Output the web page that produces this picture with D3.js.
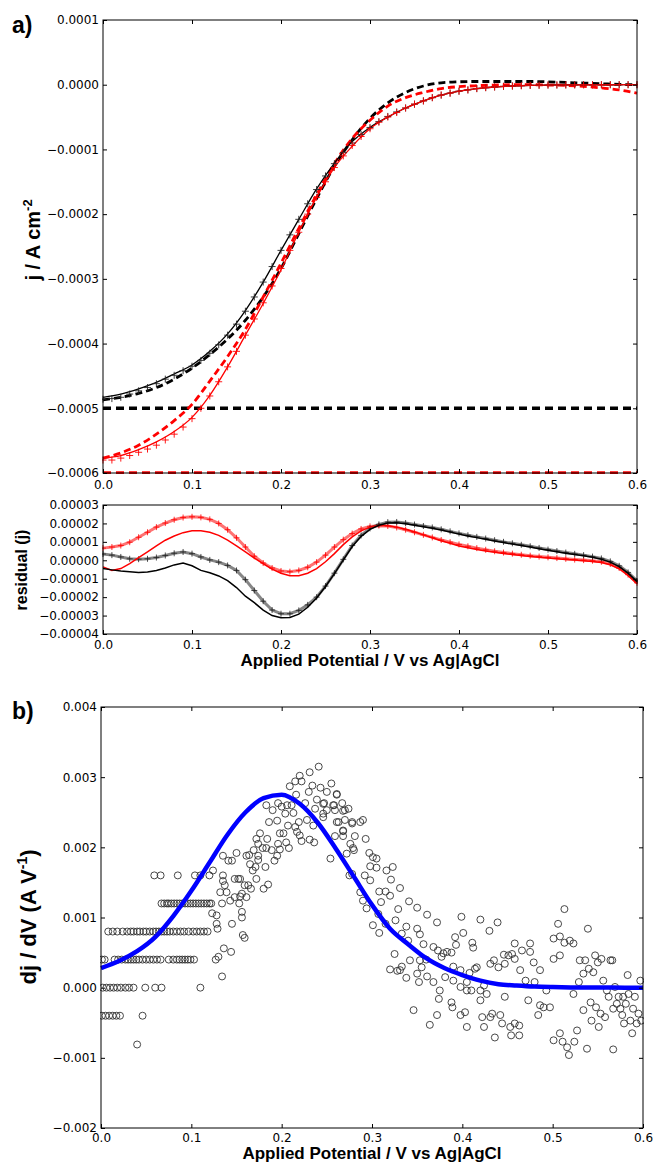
<!DOCTYPE html>
<html>
<head>
<meta charset="utf-8">
<script src="https://cdn.jsdelivr.net/npm/d3@7"></script>
<style>
    body { margin: 0; background: #fff; }
    svg text { font-family: "DejaVu Sans", sans-serif; }
    .tick text { font-size: 12px; fill: #000; }
    .tick line { stroke: #000; }
    .label { font-family: "Liberation Sans", Arial, sans-serif; font-weight: bold; fill: #000; }
</style>
</head>
<body>
<svg id="fig" width="654" height="1163"></svg>
<script>
// ---- shared axis ticks
let potentialTicks = [0.0, 0.1, 0.2, 0.3, 0.4, 0.5, 0.6];
let currentTicks = [-0.0006, -0.0005, -0.0004, -0.0003, -0.0002, -0.0001, 0.0, 0.0001];
let residualTicks = [-0.00004, -0.00003, -0.00002, -0.00001, 0.0, 0.00001, 0.00002, 0.00003];
let derivTicks = [-0.002, -0.001, 0.0, 0.001, 0.002, 0.003, 0.004];

// ---- panel a: potentials (V)
let potentialFit = [0.00, 0.02, 0.04, 0.06, 0.08, 0.10, 0.12, 0.14, 0.16, 0.18, 0.20, 0.22, 0.24, 0.26, 0.28, 0.30,
    0.32, 0.34, 0.36, 0.38, 0.40, 0.42, 0.44, 0.46, 0.48, 0.50, 0.52, 0.54, 0.56, 0.58, 0.60];
let potentialData = [0.00, 0.01, 0.02, 0.03, 0.04, 0.05, 0.06, 0.07, 0.08, 0.09, 0.10, 0.11, 0.12, 0.13, 0.14, 0.15,
    0.16, 0.17, 0.18, 0.19, 0.20, 0.21, 0.22, 0.23, 0.24, 0.25, 0.26, 0.27, 0.28, 0.29, 0.30, 0.31, 0.32, 0.33, 0.34,
    0.35, 0.36, 0.37, 0.38, 0.39, 0.40, 0.41, 0.42, 0.43, 0.44, 0.45, 0.46, 0.47, 0.48, 0.49, 0.50, 0.51, 0.52, 0.53,
    0.54, 0.55, 0.56, 0.57, 0.58, 0.59, 0.60];

// current densities in units of 1e-4 A cm^-2
let blackFit = [-4.83, -4.78, -4.70, -4.60, -4.47, -4.33, -4.12, -3.85, -3.49, -3.05, -2.56, -2.08, -1.61, -1.21,
    -0.88, -0.66, -0.50, -0.36, -0.25, -0.16, -0.10, -0.06, -0.035, -0.02, -0.01, -0.005, -0.003, -0.002, -0.001, 0, 0];
let blackModel = [-4.87, -4.83, -4.77, -4.68, -4.55, -4.38, -4.17, -3.93, -3.64, -3.28, -2.84, -2.30, -1.76, -1.26,
    -0.85, -0.52, -0.28, -0.12, -0.02, 0.03, 0.045, 0.05, 0.05, 0.05, 0.05, 0.045, 0.035, 0.025, 0.015, 0.005, 0.0];
let blackData = [-4.86, -4.85, -4.83, -4.78, -4.73, -4.68, -4.62, -4.55, -4.49, -4.42, -4.35, -4.26, -4.15, -4.02,
    -3.87, -3.70, -3.50, -3.28, -3.05, -2.81, -2.56, -2.32, -2.08, -1.84, -1.62, -1.41, -1.22, -1.05, -0.90, -0.77,
    -0.66, -0.57, -0.49, -0.42, -0.36, -0.30, -0.25, -0.20, -0.16, -0.13, -0.10, -0.08, -0.06, -0.045, -0.035, -0.025,
    -0.02, -0.015, -0.01, -0.008, -0.005, -0.004, -0.003, -0.002, -0.001, -0.001, 0, 0, 0, 0, 0];
let redFit = [-5.77, -5.73, -5.64, -5.52, -5.36, -5.14, -4.80, -4.36, -3.87, -3.38, -2.86, -2.28, -1.74, -1.28,
    -0.95, -0.68, -0.50, -0.36, -0.25, -0.16, -0.10, -0.06, -0.035, -0.02, -0.01, -0.005, -0.003, -0.002, -0.001, 0, 0];
let redModel = [-5.77, -5.69, -5.57, -5.40, -5.19, -4.94, -4.58, -4.20, -3.78, -3.28, -2.76, -2.22, -1.70, -1.22,
    -0.83, -0.55, -0.33, -0.20, -0.12, -0.06, -0.03, -0.015, -0.005, 0, 0, -0.005, -0.01, -0.025, -0.05, -0.08, -0.13];
let redData = [-5.80, -5.80, -5.77, -5.73, -5.68, -5.63, -5.57, -5.49, -5.40, -5.29, -5.16, -5.00, -4.81, -4.59,
    -4.36, -4.12, -3.87, -3.62, -3.37, -3.11, -2.84, -2.56, -2.28, -2.00, -1.74, -1.50, -1.28, -1.10, -0.94, -0.80,
    -0.68, -0.58, -0.50, -0.43, -0.36, -0.30, -0.25, -0.20, -0.16, -0.13, -0.10, -0.08, -0.06, -0.045, -0.035, -0.025,
    -0.02, -0.015, -0.01, -0.008, -0.005, -0.004, -0.003, -0.002, -0.001, -0.001, 0, 0, 0, 0, 0];
let limitCurrents = [-0.0005, -0.0006];

// ---- residuals in units of 1e-5
let redResidualPlus = [0.66, 0.72, 0.80, 0.98, 1.25, 1.52, 1.80, 2.02, 2.20, 2.32, 2.36, 2.33, 2.22, 2.00, 1.66,
    1.22, 0.72, 0.22, -0.15, -0.42, -0.58, -0.62, -0.55, -0.38, -0.10, 0.28, 0.72, 1.12, 1.45, 1.70, 1.84, 1.88, 1.86,
    1.78, 1.66, 1.52, 1.38, 1.24, 1.10, 0.98, 0.86, 0.76, 0.66, 0.57, 0.49, 0.42, 0.36, 0.30, 0.25, 0.20, 0.16, 0.12,
    0.08, 0.04, 0.01, -0.02, -0.08, -0.20, -0.42, -0.78, -1.22];
let redResidualLine = [-0.36, -0.55, -0.45, -0.18, 0.15, 0.45, 0.78, 1.09, 1.32, 1.50, 1.60, 1.60, 1.52, 1.35, 1.09,
    0.78, 0.45, 0.12, -0.18, -0.48, -0.70, -0.84, -0.84, -0.70, -0.45, -0.08, 0.36, 0.85, 1.27, 1.60, 1.80, 1.90, 1.88,
    1.80, 1.68, 1.54, 1.38, 1.22, 1.06, 0.92, 0.78, 0.68, 0.58, 0.50, 0.43, 0.37, 0.31, 0.26, 0.21, 0.16, 0.12, 0.08,
    0.04, 0.01, -0.02, -0.06, -0.12, -0.24, -0.46, -0.82, -1.27];
let blackResidualPlus = [0.34, 0.28, 0.18, 0.08, 0.06, 0.08, 0.15, 0.26, 0.38, 0.45, 0.36, 0.18, 0.02, -0.10, -0.28,
    -0.55, -1.05, -1.64, -2.22, -2.70, -2.90, -2.90, -2.72, -2.42, -2.00, -1.40, -0.70, 0.05, 0.80, 1.35, 1.73, 1.95,
    2.07, 2.08, 2.02, 1.94, 1.86, 1.78, 1.68, 1.57, 1.46, 1.36, 1.27, 1.18, 1.09, 1.00, 0.92, 0.84, 0.76, 0.67, 0.58,
    0.50, 0.42, 0.35, 0.28, 0.20, 0.10, -0.06, -0.30, -0.66, -1.12];
let blackResidualLine = [-0.45, -0.52, -0.58, -0.62, -0.66, -0.64, -0.55, -0.42, -0.25, -0.15, -0.30, -0.55, -0.68,
    -0.85, -1.10, -1.48, -1.95, -2.30, -2.70, -3.00, -3.12, -3.10, -2.92, -2.55, -2.05, -1.42, -0.72, 0.02, 0.75, 1.30,
    1.68, 1.90, 2.02, 2.04, 1.98, 1.90, 1.82, 1.74, 1.64, 1.53, 1.42, 1.32, 1.23, 1.14, 1.05, 0.96, 0.88, 0.80, 0.72,
    0.63, 0.54, 0.46, 0.38, 0.31, 0.24, 0.16, 0.06, -0.10, -0.34, -0.70, -1.16];

// ---- panel b: dj/dV in units of 1e-3 A V^-1
let derivFit = [0.28, 0.38, 0.52, 0.72, 1.02, 1.38, 1.78, 2.18, 2.50, 2.70, 2.75, 2.62, 2.35, 1.98, 1.58, 1.18,
    0.84, 0.62, 0.42, 0.28, 0.18, 0.10, 0.05, 0.03, 0.015, 0.008, 0.004, 0.002, 0.001, 0.0, 0.0];

// low-potential derivative values fall on discrete levels
let derivLevels = [1.6, 1.2, 0.8, 0.4, 0.0, -0.4];
let derivLevelPotentials = [
    [0.059, 0.066, 0.085, 0.104, 0.110, 0.120],
    [0.067, 0.070, 0.073, 0.075, 0.078, 0.081, 0.084, 0.087, 0.090, 0.093, 0.096, 0.099, 0.102, 0.105, 0.108, 0.111,
        0.114, 0.117, 0.120, 0.122],
    [0.008, 0.013, 0.018, 0.024, 0.029, 0.033, 0.036, 0.040, 0.043, 0.047, 0.050, 0.054, 0.058, 0.061, 0.064, 0.067,
        0.070, 0.073, 0.076, 0.080, 0.084, 0.088, 0.092, 0.097, 0.102, 0.106, 0.110, 0.114, 0.118],
    [0.001, 0.004, 0.015, 0.019, 0.023, 0.027, 0.030, 0.033, 0.036, 0.039, 0.042, 0.046, 0.050, 0.054, 0.058, 0.062,
        0.066, 0.075, 0.080, 0.084, 0.087, 0.090, 0.093, 0.096, 0.099, 0.103],
    [0.002, 0.006, 0.010, 0.014, 0.018, 0.022, 0.027, 0.031, 0.036, 0.049, 0.060, 0.067, 0.110],
    [0.001, 0.005, 0.009, 0.013, 0.017, 0.021, 0.046]
];
let derivScatter = [
    [0.040, -0.81], [0.123, 1.06], [0.128, 1.03], [0.128, 0.91], [0.129, 0.84], [0.145, 0.91], [0.156, 1.08],
    [0.156, 1.00], [0.157, 0.75], [0.159, 0.71], [0.136, 0.56], [0.144, 0.51], [0.130, 0.44], [0.127, 0.40],
    [0.134, 0.16], [0.241, 3.15], [0.231, 3.07], [0.220, 3.02], [0.215, 2.94], [0.222, 2.94], [0.209, 2.87],
    [0.234, 2.88], [0.255, 2.91], [0.243, 2.85], [0.230, 2.79], [0.250, 2.79], [0.216, 2.75], [0.261, 2.75],
    [0.239, 2.68], [0.226, 2.63], [0.247, 2.63], [0.257, 2.60], [0.267, 2.63], [0.183, 2.60], [0.196, 2.63],
    [0.200, 2.58], [0.206, 2.60], [0.211, 2.60], [0.190, 2.53], [0.204, 2.48], [0.213, 2.49], [0.237, 2.55],
    [0.246, 2.48], [0.258, 2.60], [0.268, 2.52], [0.274, 2.55], [0.186, 2.36], [0.195, 2.38], [0.219, 2.36],
    [0.228, 2.39], [0.246, 2.43], [0.261, 2.36], [0.270, 2.39], [0.278, 2.36], [0.207, 2.31], [0.215, 2.29],
    [0.235, 2.31], [0.268, 2.24], [0.217, 2.22], [0.176, 2.20], [0.198, 2.20], [0.202, 2.20], [0.220, 2.17],
    [0.259, 2.16], [0.268, 2.16], [0.281, 2.16], [0.172, 2.12], [0.184, 2.12], [0.222, 2.09], [0.231, 2.11],
    [0.236, 2.07], [0.174, 2.05], [0.179, 1.99], [0.183, 1.99], [0.196, 2.05], [0.205, 2.07], [0.276, 2.05],
    [0.279, 1.99], [0.169, 1.96], [0.189, 1.96], [0.198, 1.97], [0.208, 1.99], [0.164, 1.89], [0.174, 1.88],
    [0.150, 1.92], [0.161, 1.88], [0.195, 1.88], [0.135, 1.88], [0.141, 1.81], [0.145, 1.81], [0.174, 1.82],
    [0.192, 1.81], [0.272, 1.91], [0.165, 1.76], [0.171, 1.72], [0.182, 1.72], [0.124, 1.67], [0.168, 1.67],
    [0.135, 1.60], [0.275, 1.60], [0.172, 1.55], [0.148, 1.55], [0.152, 1.55], [0.154, 1.55], [0.135, 1.52],
    [0.137, 1.46], [0.159, 1.46], [0.163, 1.46], [0.185, 1.47], [0.180, 1.41], [0.166, 1.41], [0.132, 1.36],
    [0.139, 1.36], [0.156, 1.34], [0.148, 1.29], [0.154, 1.30], [0.161, 1.29], [0.143, 1.24], [0.134, 1.20],
    [0.153, 1.20], [0.287, 1.36], [0.261, 2.76], [0.246, 2.62], [0.250, 2.53], [0.259, 2.53], [0.270, 2.53],
    [0.263, 2.36], [0.278, 2.34], [0.287, 2.36], [0.290, 2.39], [0.268, 2.23], [0.293, 2.12], [0.280, 1.96],
    [0.254, 1.84], [0.297, 1.92], [0.301, 1.86], [0.305, 1.84], [0.298, 1.73], [0.305, 1.71], [0.316, 1.67],
    [0.323, 1.72], [0.278, 1.62], [0.292, 1.60], [0.298, 1.53], [0.321, 1.54], [0.331, 1.42], [0.308, 1.37],
    [0.315, 1.37], [0.320, 1.31], [0.290, 1.24], [0.310, 1.22], [0.341, 1.23], [0.350, 1.14], [0.294, 1.13],
    [0.329, 1.12], [0.361, 1.04], [0.372, 0.93], [0.307, 1.05], [0.315, 0.91], [0.326, 0.96], [0.301, 0.89],
    [0.308, 0.78], [0.338, 0.87], [0.350, 0.84], [0.353, 0.76], [0.333, 0.77], [0.340, 0.67], [0.357, 0.62],
    [0.368, 0.58], [0.383, 0.51], [0.399, 1.01], [0.420, 0.97], [0.439, 0.93], [0.401, 0.78], [0.430, 0.81],
    [0.392, 0.72], [0.393, 0.61], [0.411, 0.64], [0.412, 0.57], [0.325, 0.48], [0.320, 0.26], [0.328, 0.24],
    [0.333, 0.30], [0.342, 0.39], [0.353, 0.39], [0.360, 0.40], [0.373, 0.53], [0.377, 0.44], [0.379, 0.49],
    [0.388, 0.50], [0.331, 0.25], [0.338, 0.14], [0.350, 0.20], [0.352, 0.08], [0.361, 0.16], [0.355, 0.29],
    [0.368, 0.08], [0.375, -0.04], [0.381, 0.15], [0.390, 0.30], [0.390, 0.10], [0.398, 0.25], [0.405, -0.04],
    [0.408, 0.21], [0.414, 0.27], [0.416, 0.29], [0.374, -0.16], [0.388, -0.21], [0.389, -0.28], [0.398, -0.39],
    [0.403, -0.35], [0.405, -0.56], [0.420, -0.18], [0.422, -0.42], [0.424, -0.56], [0.431, -0.42], [0.433, -0.37],
    [0.436, -0.71], [0.442, -0.39], [0.444, -0.51], [0.447, -0.13], [0.453, -0.56], [0.454, -0.68], [0.458, -0.51],
    [0.463, -0.54], [0.463, -0.68], [0.346, -0.32], [0.364, -0.53], [0.372, -0.39], [0.398, 0.01], [0.405, 0.08],
    [0.410, -0.04], [0.420, -0.04], [0.424, 0.03], [0.427, -0.09], [0.431, 0.34], [0.435, 0.39], [0.440, 0.29],
    [0.446, 0.47], [0.447, 0.34], [0.451, 0.46], [0.455, 0.48], [0.458, 0.41], [0.458, 0.63], [0.464, 0.25],
    [0.466, 0.53], [0.470, 0.10], [0.473, -0.18], [0.475, 0.63], [0.475, 0.51], [0.479, 0.36], [0.480, 0.08],
    [0.484, -0.39], [0.486, 0.25], [0.486, -0.25], [0.490, -0.28], [0.493, -0.04], [0.497, -0.28], [0.501, 0.70],
    [0.501, 0.41], [0.501, -0.75], [0.506, 0.91], [0.508, 0.73], [0.508, 0.46], [0.508, -0.65], [0.511, -0.77],
    [0.513, 1.12], [0.513, 0.64], [0.516, -0.85], [0.518, -0.96], [0.519, 0.67], [0.523, 0.63], [0.523, -0.09],
    [0.524, -0.77], [0.527, -0.61], [0.529, 0.08], [0.530, 0.39], [0.534, 0.20], [0.534, -0.32], [0.536, 0.39],
    [0.538, -0.87], [0.539, 0.84], [0.540, 0.27], [0.542, -0.21], [0.543, -0.47], [0.545, 0.22], [0.547, 0.46],
    [0.548, -0.28], [0.550, 0.36], [0.551, -0.56], [0.553, -0.37], [0.554, 0.41], [0.556, 0.10], [0.558, -0.42],
    [0.560, -0.04], [0.562, -0.13], [0.564, 0.39], [0.566, 0.39], [0.567, -0.88], [0.567, -0.30], [0.569, 0.01],
    [0.571, -0.23], [0.573, -0.13], [0.575, -0.30], [0.577, -0.39], [0.578, -0.13], [0.579, -0.51], [0.581, -0.23],
    [0.583, 0.18], [0.584, -0.09], [0.586, -0.47], [0.588, -0.65], [0.589, -0.30], [0.591, -0.13], [0.593, -0.51],
    [0.595, -0.37], [0.597, 0.10], [0.598, -0.47]
];

let svg = d3.select("#fig");
let crossPath = "M-3.5,0H3.5M0,-3.5V3.5";

/** draw axes boxed on four sides with inward ticks */
function drawFrame(g, x, y, w, h, yValues, yFormat, xPad) {
    g.append("g").attr("transform", "translate(0," + h + ")")
        .call(d3.axisBottom(x).tickValues(potentialTicks).tickFormat(d3.format(".1f")).tickSize(-4).tickPadding(xPad));
    g.append("g")
        .call(d3.axisTop(x).tickValues(potentialTicks).tickFormat("").tickSize(-4));
    g.append("g")
        .call(d3.axisLeft(y).tickValues(yValues).tickFormat(yFormat).tickSize(-4).tickPadding(4));
    g.append("g").attr("transform", "translate(" + w + ",0)")
        .call(d3.axisRight(y).tickValues(yValues).tickFormat("").tickSize(-4));
    g.selectAll(".domain").remove();
    g.append("rect")
        .attr("width", w).attr("height", h)
        .attr("fill", "none").attr("stroke", "#000").attr("stroke-width", 1);
}

function addClip(g, id, w, h) {
    g.append("clipPath").attr("id", id)
        .append("rect").attr("x", -1).attr("y", -1).attr("width", w + 2).attr("height", h + 2);
}

function zipSeries(xs, ys) {
    return xs.map((v, i) => ({v: v, j: ys[i]}));
}

// ================= panel a, top
let topW = 534, topH = 453;
let gTop = svg.append("g").attr("transform", "translate(103,20)");
let xTop = d3.scaleLinear().domain([0, 0.6]).range([0, topW]);
let yTop = d3.scaleLinear().domain([-0.0006, 0.0001]).range([topH, 0]);
addClip(gTop, "clipTop", topW, topH);
let plotTop = gTop.append("g").attr("clip-path", "url(#clipTop)");

let lineTop = d3.line()
    .x(d => xTop(d.v))
    .y(d => yTop(d.j * 1e-4))
    .curve(d3.curveMonotoneX);

let limitColors = ["#000", "#ff0000"];
plotTop.selectAll(".limit")
    .data(limitCurrents)
    .enter().append("line")
    .attr("class", "limit")
    .attr("x1", xTop(0)).attr("x2", xTop(0.6))
    .attr("y1", d => yTop(d)).attr("y2", d => yTop(d))
    .attr("stroke", (d, i) => limitColors[i])
    .attr("stroke-width", 3.5)
    .attr("stroke-dasharray", "8,5");

let topSeries = [
    {values: zipSeries(potentialFit, blackModel), color: "#000", width: 2.8, dash: "7,4"},
    {values: zipSeries(potentialFit, redModel), color: "#ff0000", width: 2.8, dash: "7,4"},
    {values: zipSeries(potentialFit, blackFit), color: "#000", width: 1.3, dash: null},
    {values: zipSeries(potentialFit, redFit), color: "#ff0000", width: 1.3, dash: null}
];
topSeries.forEach(function (s) {
    plotTop.append("path")
        .datum(s.values)
        .attr("d", lineTop)
        .attr("fill", "none")
        .attr("stroke", s.color)
        .attr("stroke-width", s.width)
        .attr("stroke-dasharray", s.dash);
});

[[blackData, "#222"], [redData, "#ff0000"]].forEach(function (p) {
    plotTop.selectAll(null)
        .data(zipSeries(potentialData, p[0]))
        .enter().append("path")
        .attr("d", crossPath)
        .attr("transform", d => "translate(" + xTop(d.v) + "," + yTop(d.j * 1e-4) + ")")
        .attr("stroke", p[1])
        .attr("stroke-width", 0.9)
        .attr("fill", "none");
});

drawFrame(gTop, xTop, yTop, topW, topH, currentTicks, d3.format(".4f"), 7);

// ================= panel a, residuals
let resW = 534, resH = 129;
let gRes = svg.append("g").attr("transform", "translate(103,505)");
let xRes = d3.scaleLinear().domain([0, 0.6]).range([0, resW]);
let yRes = d3.scaleLinear().domain([-0.00004, 0.00003]).range([resH, 0]);
addClip(gRes, "clipRes", resW, resH);
let plotRes = gRes.append("g").attr("clip-path", "url(#clipRes)");

let lineRes = d3.line()
    .x(d => xRes(d.v))
    .y(d => yRes(d.j * 1e-5));

let resSeries = [
    {values: redResidualPlus, color: "#ff0000", cross: true},
    {values: blackResidualPlus, color: "#222", cross: true},
    {values: redResidualLine, color: "#ff0000", cross: false},
    {values: blackResidualLine, color: "#000", cross: false}
];
resSeries.forEach(function (s) {
    let pts = zipSeries(potentialData, s.values);
    plotRes.append("path")
        .datum(pts)
        .attr("d", lineRes)
        .attr("fill", "none")
        .attr("stroke", s.color)
        .attr("stroke-opacity", s.cross ? 0.55 : 1)
        .attr("stroke-width", s.cross ? 3 : 1.5);
    if (s.cross) {
        plotRes.selectAll(null)
            .data(pts)
            .enter().append("path")
            .attr("d", "M-3,0H3M0,-3V3")
            .attr("transform", d => "translate(" + xRes(d.v) + "," + yRes(d.j * 1e-5) + ")")
            .attr("stroke", s.color)
            .attr("stroke-width", 0.8);
    }
});

drawFrame(gRes, xRes, yRes, resW, resH, residualTicks, d3.format(".5f"), 6);

// ================= panel b
let botW = 542, botH = 421;
let gBot = svg.append("g").attr("transform", "translate(101,707)");
let xBot = d3.scaleLinear().domain([0, 0.6]).range([0, botW]);
let yBot = d3.scaleLinear().domain([-0.002, 0.004]).range([botH, 0]);
addClip(gBot, "clipBot", botW, botH);
let plotBot = gBot.append("g").attr("clip-path", "url(#clipBot)");

let derivPoints = [];
derivLevels.forEach(function (level, i) {
    derivLevelPotentials[i].forEach(v => derivPoints.push({v: v, d: level}));
});
derivScatter.forEach(p => derivPoints.push({v: p[0], d: p[1]}));

plotBot.selectAll("circle")
    .data(derivPoints)
    .enter().append("circle")
    .attr("cx", d => xBot(d.v))
    .attr("cy", d => yBot(d.d * 1e-3))
    .attr("r", 3.5)
    .attr("fill", "none")
    .attr("stroke", "#333")
    .attr("stroke-width", 0.9);

plotBot.append("path")
    .datum(potentialFit.map((v, i) => ({v: v, d: derivFit[i]})))
    .attr("d", d3.line()
        .x(d => xBot(d.v))
        .y(d => yBot(d.d * 1e-3))
        .curve(d3.curveMonotoneX))
    .attr("fill", "none")
    .attr("stroke", "#0000ff")
    .attr("stroke-width", 4.5);

drawFrame(gBot, xBot, yBot, botW, botH, derivTicks, d3.format(".3f"), 5);

// ================= labels
svg.append("text").attr("class", "label").attr("x", 12).attr("y", 33)
    .style("font-size", "23px").text("a)");
svg.append("text").attr("class", "label").attr("x", 12).attr("y", 719)
    .style("font-size", "23px").text("b)");

let yLabTop = svg.append("text").attr("class", "label")
    .attr("transform", "translate(40,240) rotate(-90)")
    .attr("text-anchor", "middle")
    .style("font-size", "20px");
yLabTop.append("tspan").text("j / A cm");
yLabTop.append("tspan").attr("dy", -8).style("font-size", "13px").text("-2");

svg.append("text").attr("class", "label")
    .attr("transform", "translate(27,570) rotate(-90)")
    .attr("text-anchor", "middle")
    .style("font-size", "16px")
    .text("residual (j)");

let yLabBot = svg.append("text").attr("class", "label")
    .attr("transform", "translate(36,917) rotate(-90)")
    .attr("text-anchor", "middle")
    .style("font-size", "22px");
yLabBot.append("tspan").text("dj / dV (A V");
yLabBot.append("tspan").attr("dy", -9).style("font-size", "14px").text("-1");
yLabBot.append("tspan").attr("dy", 9).text(")");

svg.append("text").attr("class", "label")
    .attr("x", 103 + resW / 2).attr("y", 666)
    .attr("text-anchor", "middle")
    .style("font-size", "17px")
    .text("Applied Potential / V vs Ag|AgCl");
svg.append("text").attr("class", "label")
    .attr("x", 101 + botW / 2).attr("y", 1159)
    .attr("text-anchor", "middle")
    .style("font-size", "17px")
    .text("Applied Potential / V vs Ag|AgCl");
</script>
</body>
</html>
